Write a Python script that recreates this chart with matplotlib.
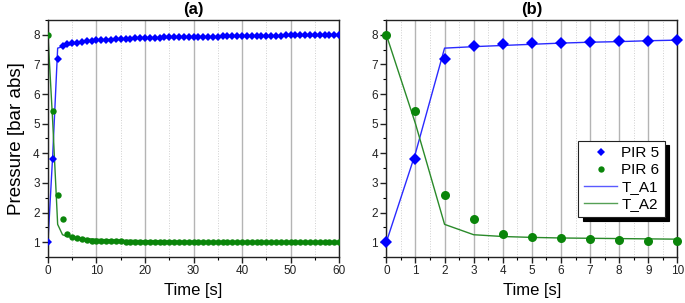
import numpy as np
import matplotlib
matplotlib.use("Agg")
import matplotlib.pyplot as plt
from matplotlib.ticker import MultipleLocator

plt.rcParams['font.family'] = ['Liberation Sans', 'DejaVu Sans']

# time axis, 1 s steps
time = list(range(0, 61))

# measured pressures [bar abs]
pir5 = [1.00, 3.82, 7.20, 7.63, 7.68, 7.71, 7.74, 7.76, 7.78, 7.80, 7.81,
        7.82, 7.83, 7.84, 7.85, 7.86, 7.86, 7.87, 7.88, 7.88, 7.89,
        7.89, 7.90, 7.90, 7.91, 7.91, 7.91, 7.92, 7.92, 7.92, 7.93,
        7.93, 7.93, 7.94, 7.94, 7.94, 7.95, 7.95, 7.95, 7.95, 7.96,
        7.96, 7.96, 7.96, 7.97, 7.97, 7.97, 7.97, 7.97, 7.98, 7.98,
        7.98, 7.98, 7.98, 7.99, 7.99, 7.99, 7.99, 7.99, 8.00, 8.00]
pir6 = [8.00, 5.42, 2.58, 1.77, 1.27, 1.18, 1.13, 1.10, 1.07, 1.05, 1.04,
        1.04, 1.03, 1.03, 1.03, 1.03, 1.02, 1.02, 1.02, 1.02, 1.02,
        1.02, 1.01, 1.01, 1.01, 1.01, 1.01, 1.01, 1.01, 1.01, 1.00,
        1.00, 1.00, 1.00, 1.00, 1.00, 1.00, 1.00, 1.00, 1.00, 1.00,
        1.00, 1.00, 1.00, 1.00, 0.99, 0.99, 0.99, 0.99, 0.99, 0.99,
        0.99, 0.99, 0.99, 0.99, 0.99, 0.99, 0.99, 0.99, 0.99, 0.99]

# model pressures [bar abs]
t_a1 = [1.00, 4.00, 7.55, 7.60, 7.64, 7.68, 7.72, 7.75, 7.77, 7.80, 7.82,
        7.83, 7.84, 7.85, 7.85, 7.86, 7.87, 7.87, 7.88, 7.88, 7.89,
        7.89, 7.90, 7.90, 7.90, 7.91, 7.91, 7.91, 7.92, 7.92, 7.92,
        7.93, 7.93, 7.93, 7.93, 7.94, 7.94, 7.94, 7.94, 7.95, 7.95,
        7.95, 7.95, 7.95, 7.96, 7.96, 7.96, 7.96, 7.96, 7.96, 7.97,
        7.97, 7.97, 7.97, 7.97, 7.97, 7.97, 7.98, 7.98, 7.98, 7.98]
t_a2 = [8.00, 5.00, 1.60, 1.25, 1.19, 1.16, 1.14, 1.13, 1.12, 1.11, 1.10,
        1.09, 1.08, 1.08, 1.07, 1.07, 1.06, 1.06, 1.06, 1.05, 1.05,
        1.05, 1.05, 1.04, 1.04, 1.04, 1.04, 1.03, 1.03, 1.03, 1.03,
        1.03, 1.02, 1.02, 1.02, 1.02, 1.02, 1.02, 1.02, 1.01, 1.01,
        1.01, 1.01, 1.01, 1.01, 1.01, 1.01, 1.00, 1.00, 1.00, 1.00,
        1.00, 1.00, 1.00, 1.00, 1.00, 1.00, 1.00, 1.00, 1.00, 1.00]

blue = '#0000ff'
green = '#0a850a'
blue_line = '#2a2aff'
green_line = '#2a8a2a'

fig = plt.figure(figsize=(6.85, 3.03), dpi=100)
ax1 = fig.add_axes([0.070, 0.152, 0.425, 0.782])
ax2 = fig.add_axes([0.564, 0.152, 0.425, 0.782])


def style(ax, xmax, major, minor, title):
    ax.set_xlim(0, xmax)
    ax.set_ylim(0.5, 8.5)
    ax.xaxis.set_major_locator(MultipleLocator(major))
    ax.xaxis.set_minor_locator(MultipleLocator(minor))
    ax.yaxis.set_major_locator(MultipleLocator(1))
    ax.yaxis.set_minor_locator(MultipleLocator(0.5))
    ax.grid(which='major', axis='x', color='#b4b4b4', linewidth=1.0)
    ax.grid(which='minor', axis='x', color='#d0d0d0', linewidth=0.7, linestyle=':')
    ax.set_axisbelow(True)
    ax.tick_params(which='major', direction='out', length=4, width=1,
                   labelsize=8.5, colors='#222222', pad=2)
    ax.tick_params(which='minor', direction='out', length=2.5, width=0.8)
    for s in ax.spines.values():
        s.set_linewidth(1.0)
        s.set_color('#222222')
    ax.set_title(title, fontsize=12, fontweight='bold', pad=4)
    ax.set_xlabel('Time [s]', fontsize=12, labelpad=4)


# (a) full 60 s
ax1.plot(time, t_a1, color=blue_line, lw=1.0, zorder=2)
ax1.plot(time, t_a2, color=green_line, lw=1.0, zorder=2)
ax1.plot(time, pir5, 'D', color=blue, ms=4.2, mew=0, zorder=3)
ax1.plot(time, pir6, 'o', color=green, ms=4.6, mew=0, zorder=3)
style(ax1, 60, 10, 5, '(a)')
ax1.set_ylabel('Pressure [bar abs]', fontsize=13.5, labelpad=6)

# (b) first 10 s
n = 11
ax2.plot(time[:n], t_a1[:n], color=blue_line, lw=1.0, label='T_A1', zorder=2)
ax2.plot(time[:n], t_a2[:n], color=green_line, lw=1.0, label='T_A2', zorder=2)
ax2.plot(time[:n], pir5[:n], 'D', color=blue, ms=6, mew=0, label='PIR 5',
         zorder=3, clip_on=False)
ax2.plot(time[:n], pir6[:n], 'o', color=green, ms=6.5, mew=0, label='PIR 6',
         zorder=3, clip_on=False)
style(ax2, 10, 1, 0.5, '(b)')

h, l = ax2.get_legend_handles_labels()
order = [2, 3, 0, 1]
leg = ax2.legend([h[i] for i in order], [l[i] for i in order],
                 loc='upper left', bbox_to_anchor=(0.66, 0.49),
                 borderaxespad=0, fontsize=11, frameon=True, fancybox=False,
                 shadow={'color': 'black', 'alpha': 1, 'ox': 3, 'oy': -3},
                 edgecolor='#222222', framealpha=1, borderpad=0.35,
                 labelspacing=0.2, handlelength=2.2, handletextpad=0.25,
                 markerscale=0.7)
leg.get_frame().set_linewidth(0.8)
leg.get_lines()[2].set_color('#5a5aff')
leg.get_lines()[3].set_color('#55a055')

fig.savefig('out.png', dpi=100)
